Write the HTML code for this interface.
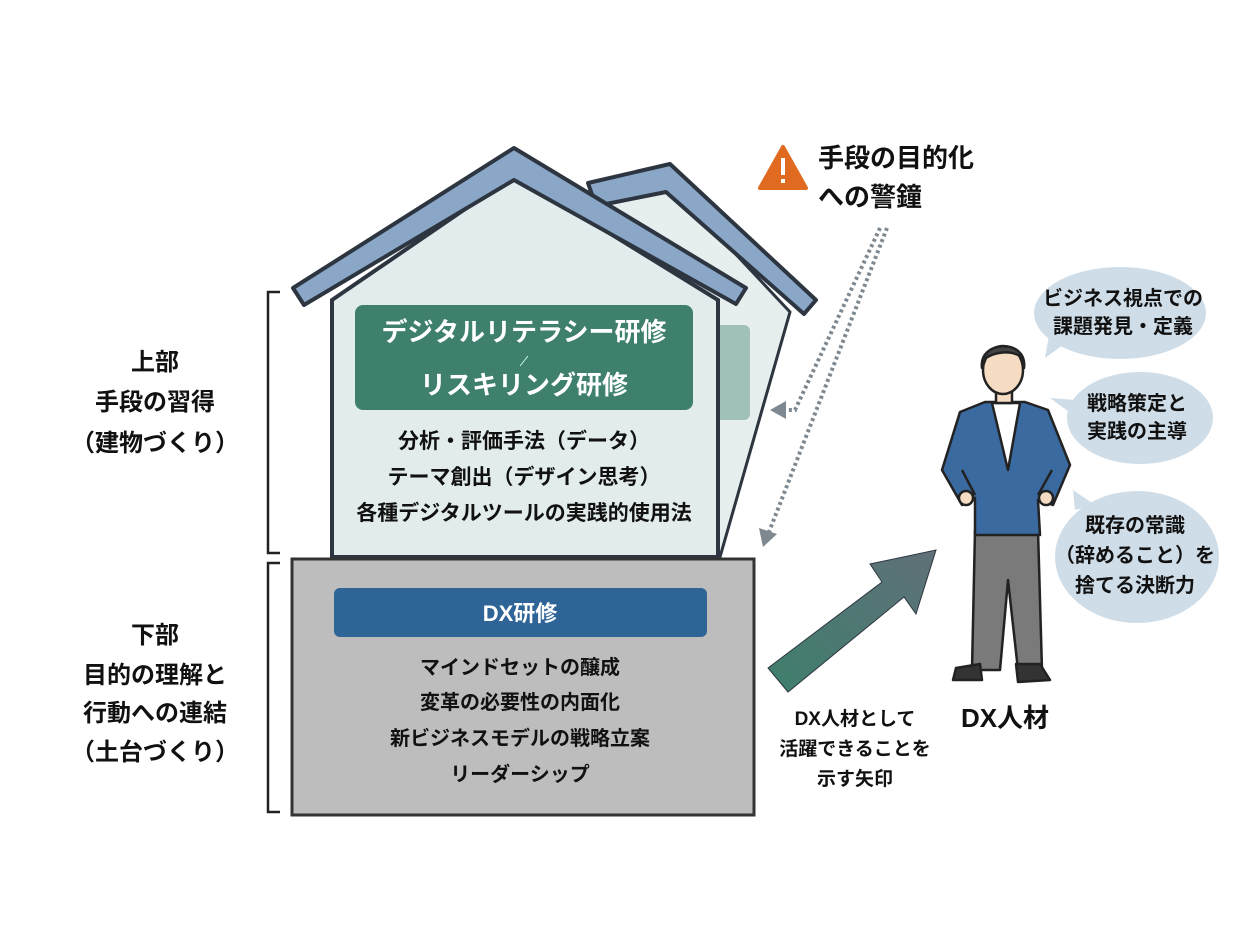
<!DOCTYPE html>
<html><head><meta charset="utf-8"><style>
html,body{margin:0;padding:0;background:#fff}
svg{display:block}
text{font-family:"Liberation Sans","Noto Sans CJK JP",sans-serif;font-weight:bold}
</style></head><body>
<svg width="1248" height="932" viewBox="0 0 1248 932" xmlns="http://www.w3.org/2000/svg">
<rect width="1248" height="932" fill="#fff"/>
<!-- back house -->
<polygon points="600,200 668,182 790,312 720,557 700,557 700,300" fill="#e6efee" stroke="#2d3640" stroke-width="3"/>
<rect x="700" y="325" width="50" height="95" rx="6" fill="#8fb5aa" opacity="0.8"/>
<polygon points="588,183 670,164 816,300 804,314 666,192 596,206" fill="#8aa7c8" stroke="#2d3640" stroke-width="4" stroke-linejoin="round"/>
<!-- main house body -->
<polygon points="332,300 515,175 718,300 718,557 332,557" fill="#e2ecec" stroke="#2d3640" stroke-width="4"/>
<polygon points="293,288 514,148 746,288 736,304 514,180 304,305" fill="#8aa7c8" stroke="#2d3640" stroke-width="4" stroke-linejoin="round"/>
<rect x="355" y="305" width="338" height="105" rx="8" fill="#3e7f6d"/>
<text x="524" y="341" font-size="26" fill="#fff" text-anchor="middle">デジタルリテラシー研修</text>
<line x1="520" y1="366" x2="528" y2="356" stroke="#cfe" stroke-width="1"/>
<text x="524" y="394" font-size="26" fill="#fff" text-anchor="middle">リスキリング研修</text>
<text x="524" y="448" font-size="21" fill="#111" text-anchor="middle">分析・評価手法（データ）</text>
<text x="524" y="484" font-size="21" fill="#111" text-anchor="middle">テーマ創出（デザイン思考）</text>
<text x="524" y="520" font-size="21" fill="#111" text-anchor="middle">各種デジタルツールの実践的使用法</text>
<!-- foundation -->
<rect x="292" y="559" width="462" height="256" fill="#bdbdbd" stroke="#333" stroke-width="3"/>
<rect x="334" y="588" width="373" height="49" rx="6" fill="#2f6496"/>
<text x="520" y="621" font-size="22" fill="#fff" text-anchor="middle">DX研修</text>
<text x="520" y="674" font-size="20" fill="#111" text-anchor="middle">マインドセットの醸成</text>
<text x="520" y="709" font-size="20" fill="#111" text-anchor="middle">変革の必要性の内面化</text>
<text x="520" y="745" font-size="20" fill="#111" text-anchor="middle">新ビジネスモデルの戦略立案</text>
<text x="520" y="781" font-size="20" fill="#111" text-anchor="middle">リーダーシップ</text>
<!-- brackets -->
<polyline points="280,292 268,292 268,553 280,553" fill="none" stroke="#222" stroke-width="2.5"/>
<polyline points="280,563 268,563 268,812 280,812" fill="none" stroke="#222" stroke-width="2.5"/>
<g font-size="24" fill="#111" text-anchor="middle">
<text x="155" y="370">上部</text>
<text x="155" y="410">手段の習得</text>
<text x="155" y="451">（建物づくり）</text>
<text x="155" y="643">下部</text>
<text x="155" y="683">目的の理解と</text>
<text x="155" y="721">行動への連結</text>
<text x="155" y="760">（土台づくり）</text>
</g>
<!-- warning -->
<polygon points="783,147 806,188 760,188" fill="#e06a1f" stroke="#e06a1f" stroke-width="4" stroke-linejoin="round"/>
<rect x="781" y="158" width="4" height="17" fill="#fff"/><rect x="781" y="179" width="4" height="4" fill="#fff"/>
<text x="818" y="167" font-size="26" fill="#111">手段の目的化</text>
<text x="818" y="206" font-size="26" fill="#111">への警鐘</text>
<!-- dotted arrows -->
<polyline points="880,228 795,410 785,410" fill="none" stroke="#7d8890" stroke-width="4" stroke-dasharray="3,3"/>
<polygon points="770,410 786,401 786,419" fill="#7d8890"/>
<line x1="887" y1="228" x2="769" y2="532" stroke="#7d8890" stroke-width="4" stroke-dasharray="3,3"/>
<polygon points="763,547 759,528 777,534" fill="#7d8890"/>
<!-- big arrow -->
<defs><linearGradient id="g" x1="0" y1="1" x2="1" y2="0"><stop offset="0" stop-color="#3e7f6d"/><stop offset="1" stop-color="#607078"/></linearGradient></defs>
<polygon points="768,668 882,582 870,564 936,550 916,614 904,597 788,692" fill="url(#g)" stroke="#2d3640" stroke-width="1"/>
<g font-size="19" fill="#111" text-anchor="middle">
<text x="855" y="725">DX人材として</text>
<text x="855" y="755">活躍できることを</text>
<text x="855" y="785">示す矢印</text>
</g>
<text x="1005" y="727" font-size="26" fill="#111" text-anchor="middle">DX人材</text>
<!-- bubbles -->
<g fill="#cfdde8">
<ellipse cx="1120" cy="313" rx="86" ry="46"/><polygon points="1050,330 1045,358 1070,340"/>
<ellipse cx="1140" cy="418" rx="73" ry="46"/><polygon points="1075,400 1050,398 1080,420"/>
<ellipse cx="1137" cy="557" rx="82" ry="66"/><polygon points="1075,510 1073,490 1095,505"/>
</g>
<g font-size="20" fill="#111" text-anchor="middle">
<text x="1123" y="305">ビジネス視点での</text>
<text x="1123" y="333">課題発見・定義</text>
<text x="1137" y="410">戦略策定と</text>
<text x="1137" y="438">実践の主導</text>
<text x="1135" y="532">既存の常識</text>
<text x="1135" y="562">（辞めること）を</text>
<text x="1135" y="592">捨てる決断力</text>
</g>
<!-- person -->
<g stroke="#222" stroke-width="2.5" stroke-linejoin="round">
<polygon points="975,530 1038,530 1042,670 1018,670 1008,580 1000,670 972,670" fill="#7a7a7a"/>
<path d="M956,668 L980,664 L982,680 L953,680 Z M1016,664 L1040,664 L1050,680 L1018,682 Z" fill="#333"/>
<path d="M985,402 L960,412 L942,470 L962,505 L975,498 L975,535 L1040,535 L1038,500 L1053,505 L1070,465 L1048,410 L1025,402 Z" fill="#3a6aa0"/>
<polygon points="992,403 1020,403 1008,470" fill="#fff"/>
<path d="M962,470 L975,495 M1052,470 L1038,495" fill="none"/>
<rect x="996" y="385" width="16" height="18" fill="#f6dcc3"/>
<ellipse cx="1003" cy="370" rx="20" ry="24" fill="#f6dcc3"/>
<path d="M982,368 C978,340 1028,338 1024,368 L1020,356 C1010,350 995,352 986,358 Z" fill="#444"/>
<circle cx="966" cy="498" r="7" fill="#f6dcc3"/><circle cx="1046" cy="498" r="7" fill="#f6dcc3"/>
</g>
</svg>
</body></html>
